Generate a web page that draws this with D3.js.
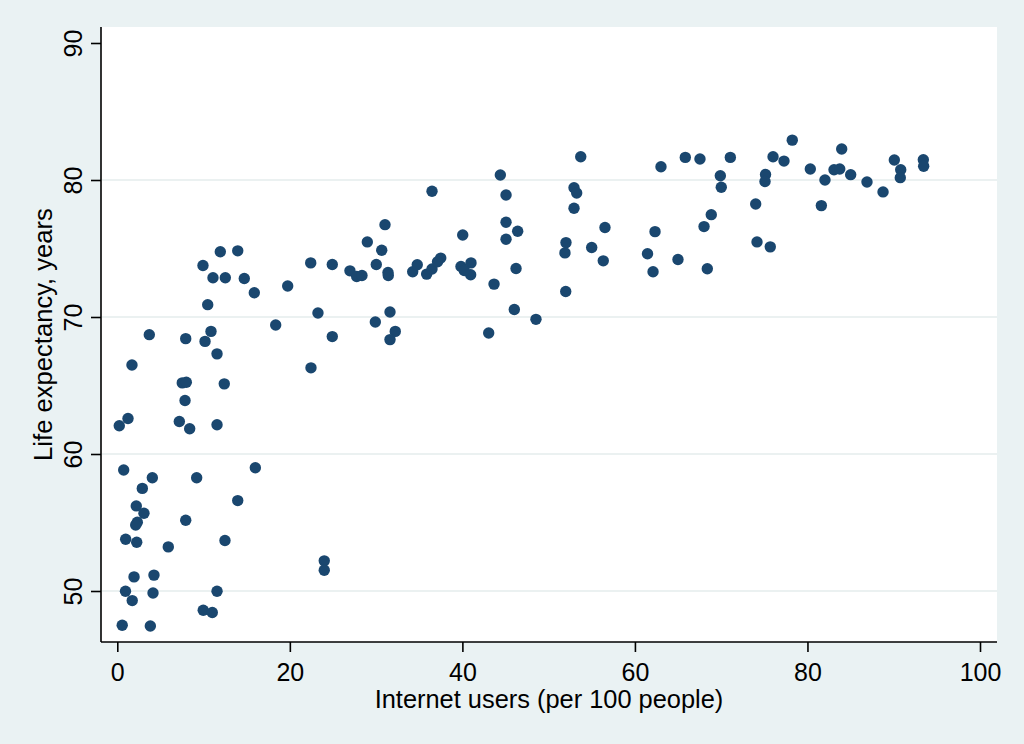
<!DOCTYPE html>
<html>
<head>
<meta charset="utf-8">
<script src="https://cdn.jsdelivr.net/npm/d3@7"></script>
<style>
  html, body { margin: 0; padding: 0; background: #eaf2f3; }
  svg { display: block; }
  text { font-family: "Liberation Sans", Arial, sans-serif; fill: #000; }
</style>
</head>
<body>
<script>
// Internet users (per 100 people)
const internetUsers = [
  9.93, 11.94, 13.96, 11.09, 12.52, 14.72, 15.88, 19.75, 22.42, 24.92,
  26.97, 27.75, 28.36, 28.98, 30.02, 30.65, 31.03, 31.38, 31.41, 36.48,
  34.24, 34.77, 35.86, 36.48, 37.49, 37.12, 40.04, 39.84, 41.0, 40.96,
  40.22, 43.67, 44.40, 45.06, 45.06, 45.06, 46.41, 46.22, 53.72, 52.94,
  53.25, 52.94, 52.01, 51.89, 51.98, 54.99, 56.53, 56.33, 61.46, 62.33,
  62.10, 63.02, 64.99, 65.84, 67.54, 68.39, 68.01, 68.85, 69.90, 70.01,
  71.06, 74.0, 74.15, 75.69, 75.14, 75.08, 76.01, 77.28, 78.24, 80.33,
  82.03, 81.61, 83.08, 83.74, 83.97, 85.01, 86.90, 88.76, 90.07, 90.81,
  90.76, 93.43, 93.47,
  10.48, 23.26, 18.36, 24.92, 29.91, 3.71, 7.93, 10.86, 10.17, 11.56,
  1.70, 22.45, 7.53, 8.0, 12.40, 7.85, 1.24, 0.23, 7.19, 8.39, 11.56,
  31.61, 32.22, 31.61, 43.05, 46.02, 48.53,
  0.74, 4.06, 9.20, 16.0, 2.90, 13.96, 2.20, 3.09, 2.32, 2.13,
  7.93, 0.97, 2.25, 12.48, 5.91, 23.99, 23.99, 1.94, 4.25, 0.95,
  4.14, 1.73, 11.56, 9.96, 11.01, 0.57, 3.83
];
// Life expectancy, years
const lifeExpectancy = [
  73.76, 74.76, 74.83, 72.86, 72.86, 72.81, 71.77, 72.26, 73.95, 73.83,
  73.37, 72.96, 73.03, 75.48, 73.83, 74.87, 76.74, 73.25, 73.03, 79.18,
  73.30, 73.81, 73.13, 73.50, 74.30, 74.03, 75.99, 73.69, 73.95, 73.08,
  73.39, 72.40, 80.36, 78.91, 76.92, 75.68, 76.26, 73.54, 81.70, 79.44,
  79.05, 77.94, 75.43, 74.68, 71.86, 75.07, 76.53, 74.10, 74.62, 76.23,
  73.30, 80.97, 74.20, 81.65, 81.53, 73.52, 76.60, 77.47, 80.31, 79.47,
  81.65, 78.25, 75.48, 75.12, 80.40, 79.89, 81.70, 81.38, 82.91, 80.80,
  80.0, 78.13, 80.75, 80.80, 82.26, 80.39, 79.85, 79.13, 81.46, 80.75,
  80.17, 81.48, 81.0,
  70.90, 70.29, 69.42, 68.57, 69.64, 68.71, 68.42, 68.95, 68.22, 67.31,
  66.50, 66.29, 65.19, 65.24, 65.12, 63.90, 62.59, 62.06, 62.37, 61.84, 62.13,
  70.36, 68.95, 68.35, 68.83, 70.55, 69.83,
  58.83, 58.27, 58.27, 59.0, 57.49, 56.60, 56.21, 55.67, 55.02, 54.82,
  55.16, 53.78, 53.56, 53.69, 53.22, 52.20, 51.52, 51.03, 51.16, 49.98,
  49.85, 49.30, 49.98, 48.59, 48.43, 47.50, 47.44
];
const xTicks = [0, 20, 40, 60, 80, 100];
const yTicks = [50, 60, 70, 80, 90];
const yGrid = [50, 60, 70, 80];
const xTitle = "Internet users (per 100 people)";
const yTitle = "Life expectancy, years";

const W = 1024, H = 744;
const plot = { left: 101, right: 997, top: 27, bottom: 642 };
const navy = "#1a476f";

const svg = d3.select("body").append("svg").attr("width", W).attr("height", H);
svg.append("rect").attr("width", W).attr("height", H).attr("fill", "#eaf2f3");
svg.append("rect")
  .attr("x", plot.left).attr("y", plot.top)
  .attr("width", plot.right - plot.left).attr("height", plot.bottom - plot.top)
  .attr("fill", "#ffffff");

const x = d3.scaleLinear().domain([0, 100]).range([117.3, 980]);
const y = d3.scaleLinear().domain([50, 90]).range([591, 43]);

// grid
svg.append("g").selectAll("line").data(yGrid).join("line")
  .attr("x1", plot.left + 1).attr("x2", plot.right)
  .attr("y1", d => y(d)).attr("y2", d => y(d))
  .attr("stroke", "#e4eded").attr("stroke-width", 1.5);

// axes
const yAxis = d3.axisLeft(y).tickValues(yTicks).tickSize(10).tickPadding(0).tickFormat(d3.format("d"));
const gy = svg.append("g").attr("transform", `translate(${plot.left},0)`).call(yAxis);
gy.select(".domain").attr("d", `M0,${plot.top}V${plot.bottom}`).attr("stroke", "#000").attr("stroke-width", 1.6);
gy.selectAll(".tick line").attr("stroke", "#000").attr("stroke-width", 1.6);
gy.selectAll(".tick text")
  .attr("x", null).attr("dy", null)
  .attr("text-anchor", "middle")
  .attr("font-size", 25)
  .attr("transform", "translate(-19,0) rotate(-90)");

const xAxis = d3.axisBottom(x).tickValues(xTicks).tickSize(10).tickPadding(0).tickFormat(d3.format("d"));
const gx = svg.append("g").attr("transform", `translate(0,${plot.bottom})`).call(xAxis);
gx.select(".domain").attr("d", `M${plot.left},0H${plot.right}`).attr("stroke", "#000").attr("stroke-width", 1.6);
gx.selectAll(".tick line").attr("stroke", "#000").attr("stroke-width", 1.6);
gx.selectAll(".tick text")
  .attr("y", 39).attr("dy", null)
  .attr("text-anchor", "middle")
  .attr("font-size", 25);

svg.selectAll(".tick text").attr("fill", "#000").attr("font-family", '"Liberation Sans", Arial, sans-serif');

// titles
svg.append("text")
  .attr("x", (plot.left + plot.right) / 2).attr("y", 708)
  .attr("text-anchor", "middle").attr("font-size", 25.4)
  .text(xTitle);
svg.append("text")
  .attr("transform", `translate(52,${(plot.top + plot.bottom) / 2}) rotate(-90)`)
  .attr("text-anchor", "middle").attr("font-size", 25.6)
  .text(yTitle);

// points
const pts = internetUsers.map((v, i) => [v, lifeExpectancy[i]]);
svg.append("g").selectAll("circle").data(pts).join("circle")
  .attr("cx", d => x(d[0])).attr("cy", d => y(d[1]))
  .attr("r", 5.7)
  .attr("fill", navy);
</script>
</body>
</html>
